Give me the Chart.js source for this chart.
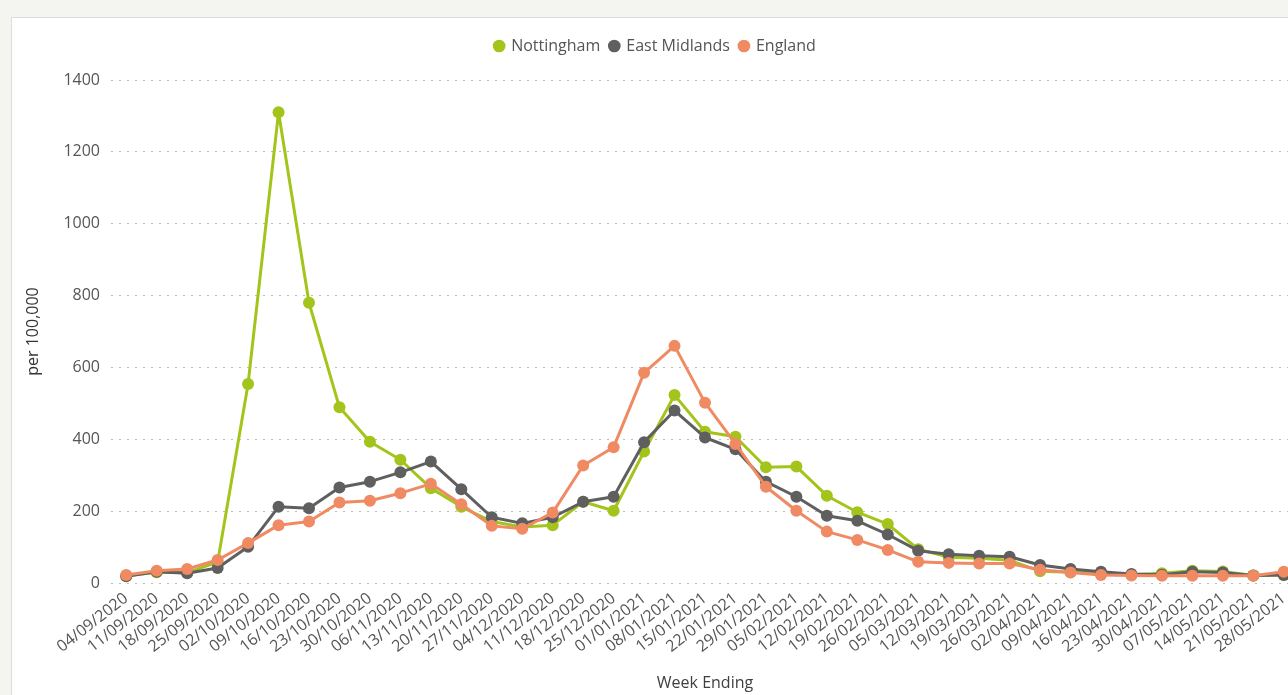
<!DOCTYPE html>
<html>
<head>
<meta charset="utf-8">
<script src="https://cdn.jsdelivr.net/npm/chart.js@4.4.1/dist/chart.umd.min.js"></script>
<style>
  html, body { margin: 0; padding: 0; width: 1288px; height: 695px; overflow: hidden; background: #f4f4f0; }
  #panel { position: absolute; left: 11px; top: 17px; width: 1300px; height: 678px; background: #ffffff;
           border-left: 1px solid #dcdcd8; border-top: 1px solid #dcdcd8; }
  canvas { display: block; }
</style>
</head>
<body>
<div id="panel"><canvas id="rates" width="1300" height="677"></canvas></div>
<script>
// Weekly case rates per 100,000 population
const weekEnding = [
  '04/09/2020','11/09/2020','18/09/2020','25/09/2020','02/10/2020','09/10/2020','16/10/2020',
  '23/10/2020','30/10/2020','06/11/2020','13/11/2020','20/11/2020','27/11/2020','04/12/2020',
  '11/12/2020','18/12/2020','25/12/2020','01/01/2021','08/01/2021','15/01/2021','22/01/2021',
  '29/01/2021','05/02/2021','12/02/2021','19/02/2021','26/02/2021','05/03/2021','12/03/2021',
  '19/03/2021','26/03/2021','02/04/2021','09/04/2021','16/04/2021','23/04/2021','30/04/2021',
  '07/05/2021','14/05/2021','21/05/2021','28/05/2021'
];

const nottingham = [
  20, 30, 29, 58, 554, 1310, 780, 489, 393, 343, 264, 212, 171, 156, 161, 226, 201, 366, 523, 421,
  407, 322, 324, 243, 197, 164, 94, 72, 69, 63, 33, 30, 27, 23, 27, 34, 32, 21, 22
];

const eastMidlands = [
  19, 31, 27, 42, 101, 212, 208, 266, 282, 308, 338, 261, 183, 166, 183, 226, 240, 392, 480, 405,
  372, 282, 240, 187, 173, 135, 90, 80, 76, 73, 50, 39, 31, 25, 23, 31, 29, 21, 22
];

const england = [
  22, 34, 39, 64, 111, 161, 171, 224, 229, 250, 276, 219, 159, 151, 196, 327, 378, 585, 660, 502,
  387, 268, 201, 143, 120, 92, 59, 56, 54, 54, 37, 29, 22, 21, 20, 20, 20, 20, 31
];

const yMin = 0;
const yMax = 1400;
const yStep = 200;

const seriesNames = ['Nottingham', 'East Midlands', 'England'];
const seriesColours = ['#a2c41b', '#5f5f5f', '#ef8a62'];

const FONT = "'Open Sans', sans-serif";
const TEXT = '#555555';
const SIZE = 16;

// extra space between the legend and the plot
const legendGap = {
  id: 'legendGap',
  beforeLayout(chart) {
    const lg = chart.legend;
    if (lg && !lg._gapAdded) {
      const fit = lg.fit;
      lg.fit = function () { fit.call(this); this.height += 16; };
      lg._gapAdded = true;
    }
  }
};

function lineSet(label, data, colour, order) {
  return {
    label, data,
    borderColor: colour,
    backgroundColor: colour,
    pointBackgroundColor: colour,
    pointBorderColor: colour,
    borderWidth: 3,
    borderJoinStyle: 'round',
    pointRadius: 6,
    pointBorderWidth: 0,
    tension: 0,
    order
  };
}

new Chart(document.getElementById('rates'), {
  type: 'line',
  data: {
    labels: weekEnding,
    datasets: [
      lineSet(seriesNames[0], nottingham, seriesColours[0], 2),
      lineSet(seriesNames[1], eastMidlands, seriesColours[1], 1),
      lineSet(seriesNames[2], england, seriesColours[2], 0)
    ]
  },
  options: {
    responsive: false,
    animation: false,
    layout: { padding: { top: 10, right: 13, bottom: 0, left: 0 } },
    plugins: {
      legend: {
        position: 'top',
        labels: {
          usePointStyle: true,
          pointStyle: 'circle',
          boxWidth: 8,
          boxHeight: 9,
          padding: 10,
          color: TEXT,
          font: { family: FONT, size: SIZE },
          sort: (a, b) => a.datasetIndex - b.datasetIndex
        }
      },
      tooltip: { enabled: false }
    },
    scales: {
      x: {
        offset: true,
        border: { display: false },
        grid: { display: false, drawTicks: false },
        ticks: {
          autoSkip: false,
          minRotation: 38,
          maxRotation: 38,
          padding: 6,
          color: TEXT,
          font: { family: FONT, size: SIZE }
        },
        title: {
          display: true,
          text: 'Week Ending',
          color: '#404040',
          font: { family: FONT, size: SIZE },
          padding: { top: 4, bottom: 2 }
        },
        afterFit(s) { s.height = 112; }
      },
      y: {
        min: yMin,
        max: yMax,
        border: { display: false, dash: [2, 6] },
        grid: { color: '#bcbcbc', lineWidth: 1, drawTicks: false },
        ticks: {
          stepSize: yStep,
          padding: 11,
          color: TEXT,
          font: { family: FONT, size: SIZE },
          callback: (v) => String(v)
        },
        title: {
          display: true,
          text: 'per 100,000',
          color: '#333333',
          font: { family: FONT, size: SIZE },
          padding: { top: 12, bottom: 4 }
        },
        afterFit(s) { s.width = 99; }
      }
    }
  },
  plugins: [legendGap]
});
</script>
</body>
</html>
